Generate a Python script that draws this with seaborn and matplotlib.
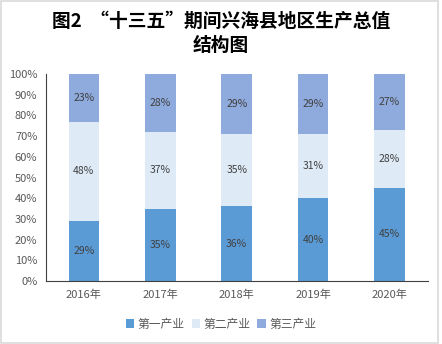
import matplotlib
matplotlib.use("Agg")
import matplotlib.pyplot as plt
import seaborn as sns
import numpy as np
from matplotlib.patches import Rectangle, Patch

years = ["2016年", "2017年", "2018年", "2019年", "2020年"]
primary = [29, 35, 36, 40, 45]
secondary = [48, 37, 35, 31, 28]
tertiary = [23, 28, 29, 29, 27]
series_names = ["第一产业", "第二产业", "第三产业"]
colors = ["#5B9BD5", "#DEEBF7", "#8FAADC"]

sns.set_theme(style="white")
plt.rcParams['font.family'] = ['Noto Sans CJK SC', 'DejaVu Sans']

fig = plt.figure(figsize=(4.42, 3.44), dpi=100)
ax = fig.add_axes([0.1034, 0.1831, 0.8642, 0.6018])

bottom = np.zeros(len(years))
for vals, c in zip([primary, secondary, tertiary], colors):
    v = np.array(vals) / 100.0
    sns.barplot(x=years, y=v, bottom=bottom, color=c, saturation=1, width=0.4, ax=ax, linewidth=0)
    bottom = bottom + v

for cont, vals in zip(ax.containers, [primary, secondary, tertiary]):
    ax.bar_label(cont, labels=[f"{x}%" for x in vals], label_type='center', fontsize=7.5, color='#404040')

ax.set_ylim(0, 1)
ax.set_xlim(-0.5, 4.5)
ax.set_yticks(np.arange(0, 1.01, 0.1))
ax.set_yticklabels([f"{int(round(t*100))}%" for t in np.arange(0, 1.01, 0.1)])
ax.set_xticks(range(len(years)))
ax.set_xticklabels(years)
ax.set_xticks(np.arange(-0.5, 4.6, 1), minor=True)
ax.tick_params(axis='x', which='major', length=0, labelsize=8, colors='#595959', pad=6)
ax.tick_params(axis='x', which='minor', length=4, direction='in', color='#404040', width=0.8)
ax.tick_params(axis='y', length=4, direction='in', labelsize=8, labelcolor='#595959', color='#404040', width=0.8, pad=6)
for s in ['top', 'right']:
    ax.spines[s].set_visible(False)
for s in ['left', 'bottom']:
    ax.spines[s].set_color('#404040')
    ax.spines[s].set_linewidth(0.8)
ax.set_xlabel("")
ax.set_ylabel("")

fig.text(0.5, 0.937, "图2  “十三五”期间兴海县地区生产总值", ha='center', va='center', fontsize=13.5, fontweight='heavy', color='#000000')
fig.text(0.5, 0.868, "结构图", ha='center', va='center', fontsize=13.5, fontweight='heavy', color='#000000')

handles = [Patch(facecolor=c, edgecolor='none') for c in colors]
fig.legend(handles, series_names, loc='center', bbox_to_anchor=(0.5, 0.058), ncol=3, frameon=False,
           fontsize=8.5, handlelength=0.7, handleheight=0.7, handletextpad=0.3, columnspacing=0.6,
           labelcolor='#595959')

fig.patches.append(Rectangle((0.002, 0.004), 0.988, 0.993, transform=fig.transFigure, fill=False,
                             edgecolor='#D9D9D9', linewidth=1.2))

fig.savefig("out.png", dpi=100)
